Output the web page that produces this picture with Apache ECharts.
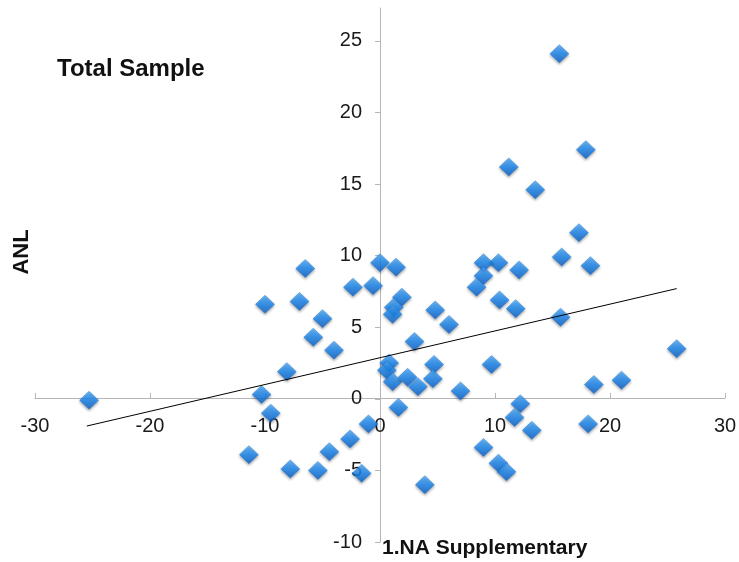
<!DOCTYPE html>
<html>
<head>
<meta charset="utf-8">
<script src="https://cdn.jsdelivr.net/npm/echarts@6/dist/echarts.min.js"></script>
<style>html,body{margin:0;padding:0;background:#fff}#c{width:739px;height:562px}</style>
</head>
<body>
<div id="c"></div>
<script>
const xTicks = [-30, -20, -10, 0, 10, 20, 30];
const yTicks = [-10, -5, 0, 5, 10, 15, 20, 25];
const naSupplementary = [
  -25.3, 15.6, 17.9, 11.2, 13.5, 17.3, 15.8, 18.3, 12.1, 10.3,
  9.0, 9.0, 8.4, 10.4, 11.8, 15.7, 25.8, 18.6, 21.0, 12.2,
  9.7, 0.0, 1.4, -0.6, 1.9, 1.2, 1.1, 4.8, 6.0, 3.0,
  0.8, 0.6, 1.1, 2.4, 3.3, 4.7, 4.6, 7.0, 1.6, -6.5,
  -10.0, -7.0, -5.0, -5.8, -4.0, -8.1, -10.3, -2.35, -9.5, -11.4,
  -7.8, -5.4, -4.4, -2.6, -1.0, -1.6, 11.7, 13.2, 18.1, 9.0,
  10.3, 11.0, 3.9
];
const anl = [
  -0.1, 24.1, 17.4, 16.2, 14.6, 11.6, 9.9, 9.3, 9.0, 9.5,
  9.5, 8.6, 7.8, 6.9, 6.3, 5.7, 3.5, 1.0, 1.3, -0.35,
  2.4, 9.5, 9.2, 7.9, 7.1, 6.4, 5.9, 6.2, 5.2, 4.0,
  2.5, 2.0, 1.2, 1.5, 0.85, 2.4, 1.4, 0.55, -0.6, 9.1,
  6.6, 6.8, 5.6, 4.3, 3.4, 1.9, 0.3, 7.8, -1.0, -3.9,
  -4.9, -5.0, -3.7, -2.8, -1.75, -5.2, -1.3, -2.2, -1.75, -3.4,
  -4.5, -5.1, -6.0
];
const trendX = [-25.5, 25.8];
const trendY = [-1.9, 7.7];

const points = naSupplementary.map((x, i) => [x, anl[i]]);
const trend = trendX.map((x, i) => [x, trendY[i]]);

const chart = echarts.init(document.getElementById('c'), null, {renderer: 'canvas'});
const font = '"Liberation Sans", Arial, Helvetica, sans-serif';
chart.setOption({
  animation: false,
  grid: {left: 35, right: 14, top: 8, bottom: 20, containLabel: false, outerBoundsMode: 'none'},
  xAxis: {
    type: 'value', min: -30, max: 30, interval: 10, position: 'bottom', offset: -144,
    axisLine: {onZero: false, lineStyle: {color: '#b5b5b5', width: 1}},
    axisTick: {inside: true, length: 5, lineStyle: {color: '#b5b5b5'}},
    axisLabel: {margin: 18, fontSize: 20, color: '#1a1a1a', fontFamily: font, showMinLabel: true, showMaxLabel: true},
    splitLine: {show: false}
  },
  yAxis: {
    type: 'value', min: -10, max: 27.3, position: 'left', offset: -345,
    axisLine: {onZero: false, lineStyle: {color: '#b5b5b5', width: 1}},
    axisTick: {length: 5, customValues: yTicks, lineStyle: {color: '#b5b5b5'}},
    axisLabel: {margin: 18, fontSize: 20, color: '#1a1a1a', fontFamily: font, customValues: yTicks},
    splitLine: {show: false}
  },
  graphic: [
    {type: 'text', left: 57, top: 57, style: {text: 'Total Sample', font: 'bold 24px ' + font, fill: '#111'}},
    {type: 'text', x: 22, y: 252, rotation: Math.PI / 2, style: {text: 'ANL', font: 'bold 22px ' + font, fill: '#111', align: 'center', verticalAlign: 'middle'}},
    {type: 'text', left: 382, top: 538, style: {text: '1.NA Supplementary', font: 'bold 21px ' + font, fill: '#111'}}
  ],
  series: [
    {
      type: 'line', data: trend, symbol: 'none', silent: true, z: 3,
      lineStyle: {color: '#000', width: 1}
    },
    {
      type: 'scatter', data: points, symbol: 'diamond', symbolSize: [19, 18], z: 2,
      itemStyle: {
        color: new echarts.graphic.LinearGradient(0, 0, 0, 1, [
          {offset: 0, color: '#4fb0ff'},
          {offset: 0.5, color: '#1a88f2'},
          {offset: 1, color: '#0a60c8'}
        ]),
        borderColor: '#1570d8', borderWidth: 0.5,
        shadowBlur: 3, shadowColor: 'rgba(0,0,0,0.45)', shadowOffsetY: 1.5
      }
    }
  ]
});
</script>
</body>
</html>
